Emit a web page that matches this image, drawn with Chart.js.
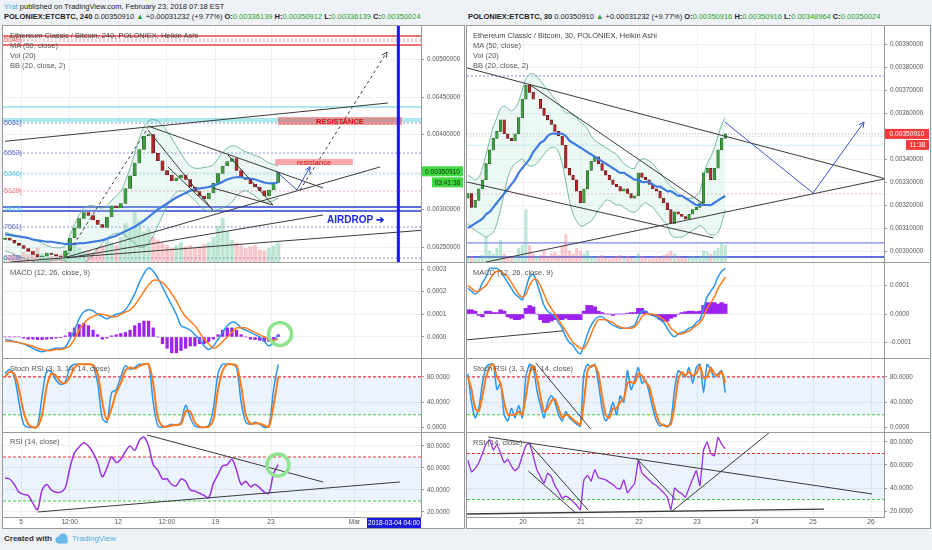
<!DOCTYPE html>
<html>
<head>
<meta charset="utf-8">
<script src="https://cdn.jsdelivr.net/npm/chart.js@4.4.1/dist/chart.umd.min.js"></script>
<style>
body { margin:0; background:#eef1f6; width:932px; height:550px; overflow:hidden; position:relative;
       font-family:"Liberation Sans", Arial, sans-serif; }
canvas { position:absolute; }
.abs { position:absolute; white-space:nowrap; }
.hdr { font-size:7.5px; color:#222; line-height:10px; }
.g { color:#2ca02c; }
.panel { position:absolute; background:#fff; border:1px solid #9a9a9a; box-sizing:border-box; }
.sep { position:absolute; height:1px; background:#9a9a9a; }
.leg { font-size:7.5px; color:#555; line-height:10px; z-index:5; }
</style>
</head>
<body>

<div class="abs hdr" style="left:4px;top:2px"><span style="color:#3bb0e0">Yrat</span> published on TradingView.com, February 23, 2018 07:18 EST</div>
<div class="abs hdr" style="left:4px;top:12px"><b>POLONIEX:ETCBTC, 240</b> 0.00350910 <span class="g">&#9650;</span> +0.00031232 (+9.77%) <b>O:</b><span class="g">0.00336139</span> <b>H:</b><span class="g">0.00350912</span> <b>L:</b><span class="g">0.00336139</span> <b>C:</b><span class="g">0.00350024</span></div>
<div class="abs hdr" style="left:468px;top:12px"><b>POLONIEX:ETCBTC, 30</b> 0.00350910 <span class="g">&#9650;</span> +0.00031232 (+9.77%) <b>O:</b><span class="g">0.00350916</span> <b>H:</b><span class="g">0.00350916</span> <b>L:</b><span class="g">0.00348964</span> <b>C:</b><span class="g">0.00350024</span></div>

<div class="panel" style="left:2px;top:25px;width:463px;height:504px"></div>
<div class="panel" style="left:466px;top:25px;width:465px;height:504px"></div>

<canvas id="lMain" width="461" height="236" style="left:3px;top:26px"></canvas>
<canvas id="lMacd" width="461" height="95" style="left:3px;top:263px"></canvas>
<canvas id="lStoch" width="461" height="73" style="left:3px;top:359px"></canvas>
<canvas id="lRsi" width="461" height="95" style="left:3px;top:433px"></canvas>

<canvas id="rMain" width="463" height="236" style="left:467px;top:26px"></canvas>
<canvas id="rMacd" width="463" height="95" style="left:467px;top:263px"></canvas>
<canvas id="rStoch" width="463" height="73" style="left:467px;top:359px"></canvas>
<canvas id="rRsi" width="463" height="95" style="left:467px;top:433px"></canvas>

<div class="sep" style="left:3px;top:262px;width:461px"></div>
<div class="sep" style="left:3px;top:358px;width:461px"></div>
<div class="sep" style="left:3px;top:432px;width:461px"></div>
<div class="sep" style="left:467px;top:262px;width:463px"></div>
<div class="sep" style="left:467px;top:358px;width:463px"></div>
<div class="sep" style="left:467px;top:432px;width:463px"></div>

<div class="abs leg" style="left:10px;top:31px;color:#444">Ethereum Classic / Bitcoin, 240, POLONIEX, Heikin Ashi</div>
<div class="abs leg" style="left:10px;top:41px">MA (50, close)</div>
<div class="abs leg" style="left:10px;top:51px">Vol (20)</div>
<div class="abs leg" style="left:10px;top:61px">BB (20, close, 2)</div>
<div class="abs leg" style="left:10px;top:268px">MACD (12, 26, close, 9)</div>
<div class="abs leg" style="left:10px;top:364px">Stoch RSI (3, 3, 14, 14, close)</div>
<div class="abs leg" style="left:10px;top:437px">RSI (14, close)</div>

<div class="abs leg" style="left:473px;top:31px;color:#444">Ethereum Classic / Bitcoin, 30, POLONIEX, Heikin Ashi</div>
<div class="abs leg" style="left:473px;top:41px">MA (50, close)</div>
<div class="abs leg" style="left:473px;top:51px">Vol (20)</div>
<div class="abs leg" style="left:473px;top:61px">BB (20, close, 2)</div>
<div class="abs leg" style="left:473px;top:268px">MACD (12, 26, close, 9)</div>
<div class="abs leg" style="left:473px;top:364px">Stoch RSI (3, 3, 14, 14, close)</div>
<div class="abs leg" style="left:473px;top:438px">RSI (14, close)</div>

<div class="abs" style="left:4px;top:534px;font-size:8px;color:#333;font-weight:bold">Created with</div>
<svg class="abs" style="left:54px;top:533px" width="16" height="11" viewBox="0 0 16 11">
  <circle cx="5" cy="7" r="3.5" fill="#6bb8e8"/><circle cx="9" cy="5" r="4.5" fill="#6bb8e8"/>
  <rect x="4" y="6" width="10" height="4.5" rx="2" fill="#6bb8e8"/>
</svg>
<div class="abs" style="left:72px;top:534px;font-size:8px;color:#55aee0">TradingView</div>

<script>
const FONT = '"Liberation Sans", Arial, sans-serif';

// ---------- left chart (240 min, one point every 8 hours) ----------
const leftStart = 3.85;          // day of February
const leftXTicks = [5, 8.5, 12, 15.5, 19, 23, 29];
const leftXLabels = ['5', '12:00', '12', '12:00', '19', '23', 'Mar'];

const leftClose = [
  0.00262,0.00259,0.00255, 0.00252,0.00248,0.00244, 0.00240,0.00237,0.00238,
  0.00242,0.00240,0.00238, 0.00237,0.00245,0.00262, 0.00275,0.00288,0.00296,
  0.00292,0.00286,0.00280, 0.00276,0.00290,0.00305, 0.00302,0.00308,0.00328,
  0.00345,0.00362,0.00380, 0.00398,0.00400,0.00375, 0.00365,0.00352,0.00346,
  0.00338,0.00342,0.00346, 0.00340,0.00330,0.00324, 0.00318,0.00314,0.00322,
  0.00335,0.00348,0.00358, 0.00364,0.00368,0.00352, 0.00342,0.00340,0.00334,
  0.00330,0.00325,0.00318, 0.00326,0.00336,0.00350];
const leftMa = [
  0.00267,0.00266,0.00265, 0.00264,0.00263,0.00262, 0.00260,0.00259,0.00258,
  0.00257,0.00257,0.00256, 0.00255,0.00254,0.00254, 0.00254,0.00255,0.00255,
  0.00256,0.00257,0.00258, 0.00259,0.00261,0.00263, 0.00265,0.00268,0.00271,
  0.00274,0.00277,0.00281, 0.00285,0.00290,0.00295, 0.00300,0.00304,0.00308,
  0.00312,0.00316,0.00319, 0.00322,0.00325,0.00327, 0.00328,0.00329,0.00330,
  0.00332,0.00334,0.00337, 0.00340,0.00342,0.00343, 0.00343,0.00342,0.00341,
  0.00340,0.00338,0.00336, 0.00335,0.00335,0.00336];
const leftBbUp = [
  0.00270,0.00268,0.00266, 0.00265,0.00263,0.00262, 0.00260,0.00258,0.00255,
  0.00252,0.00250,0.00249, 0.00249,0.00252,0.00265, 0.00280,0.00293,0.00302,
  0.00305,0.00305,0.00303, 0.00302,0.00305,0.00312, 0.00318,0.00324,0.00338,
  0.00355,0.00375,0.00395, 0.00410,0.00418,0.00420, 0.00418,0.00412,0.00404,
  0.00395,0.00385,0.00375, 0.00365,0.00358,0.00355, 0.00355,0.00356,0.00357,
  0.00360,0.00368,0.00376, 0.00382,0.00385,0.00384, 0.00380,0.00377,0.00375,
  0.00372,0.00370,0.00366, 0.00362,0.00360,0.00358];
const leftBbLow = [
  0.00245,0.00243,0.00240, 0.00237,0.00235,0.00233, 0.00231,0.00230,0.00230,
  0.00231,0.00232,0.00233, 0.00233,0.00232,0.00228, 0.00225,0.00225,0.00228,
  0.00233,0.00240,0.00248, 0.00255,0.00262,0.00266, 0.00268,0.00268,0.00265,
  0.00260,0.00255,0.00250, 0.00250,0.00255,0.00265, 0.00278,0.00292,0.00305,
  0.00315,0.00323,0.00325, 0.00323,0.00318,0.00312, 0.00305,0.00300,0.00298,
  0.00298,0.00300,0.00302, 0.00305,0.00310,0.00318, 0.00323,0.00325,0.00322,
  0.00318,0.00313,0.00310, 0.00310,0.00312,0.00315];
const leftVol = [
  10,12,15, 12,18,14, 20,25,15, 12,10,12, 14,20,30, 35,25,20, 22,18,25,
  30,40,35, 30,45,70, 60,90,75, 55,60,45, 40,35,30, 25,30,35, 28,30,25,
  28,32,35, 45,65,80, 55,40,35, 30,25,28, 30,22,20, 25,30,35];
const leftMacd = [
  -0.000012,-0.000015,-0.00002, -0.000025,-0.00003,-0.00004, -0.00005,-0.00006,-0.000065,
  -0.00006,-0.000055,-0.00005, -0.00005,-0.000045,-0.00001, 0.00003,0.00008,0.00011,
  0.00012,0.000115,0.0001, 0.00009,0.00008,0.00009, 0.0001,0.000105,0.00012,
  0.00015,0.00019,0.00024, 0.00028,0.000305,0.00029, 0.00026,0.00022,0.00018,
  0.00014,0.0001,0.00005, 0.00004,0.00003,0.00001, -0.00001,-0.00004,-0.000055,
  -0.00004,-0.00001,0.00002, 0.00005,0.000065,0.00006, 0.00004,0.00003,0.00002,
  0.00001,0.0,-0.00002, -0.00004,-0.00002,0.00001];
const leftSignal = [
  -0.000018,-0.00002,-0.000022, -0.000025,-0.00003,-0.000035, -0.00004,-0.00005,-0.000055,
  -0.00006,-0.00006,-0.000055, -0.000055,-0.00005,-0.00004, -0.00001,0.00003,0.00006,
  0.00008,0.00009,0.0001, 0.0001,0.000095,0.00009, 0.00009,0.0001,0.00011,
  0.00012,0.00014,0.00017, 0.0002,0.00023,0.00025, 0.00025,0.00024,0.00022,
  0.00019,0.00016,0.00012, 0.00009,0.00007,0.00005, 0.00002,-0.00001,-0.00003,
  -0.00005,-0.00004,-0.00002, 0.0,0.00002,0.00004, 0.00004,0.00004,0.00003,
  0.00002,0.00001,0.0, -0.00001,-0.000015,-0.00001];
const leftHist = [
  0.0,0.0,0.0, 0.0,-0.000005,-0.00001, -0.00001,-0.000012,-0.000012,
  -0.00001,-0.000008,-0.000005, -0.000003,0.000005,0.00002, 0.00004,0.000055,0.00006,
  0.00005,0.00003,0.00001, -0.00001,-0.000005,0.000005, 0.00001,0.000015,0.00002,
  0.00003,0.00005,0.00006, 0.00007,0.00007,0.00004, 0.0,-0.00003,-0.00005,
  -0.00007,-0.00007,-0.00006, -0.00005,-0.00004,-0.00004, -0.00003,-0.00003,-0.00002,
  -0.00001,0.00001,0.00003, 0.00004,0.00004,0.00003, 0.00001,0.0,-0.00001,
  -0.000012,-0.000015,-0.00002, -0.00002,-0.00001,0.00001];
const leftK = [
  85,92,80, 40,5,0, 0,2,50, 90,88,75, 68,72,95, 100,100,100, 100,98,70,
  15,8,55, 60,80,98, 92,95,100, 100,100,40, 2,0,2, 5,3,8, 35,15,2,
  0,0,3, 30,85,100, 100,100,95, 40,8,5, 8,5,0, 2,60,100];
const leftD = [
  80,88,85, 60,25,5, 0,1,20, 65,85,82, 72,70,80, 95,100,100, 100,99,85,
  40,12,30, 55,70,90, 95,93,97, 100,100,70, 15,2,1, 3,4,5, 25,25,8,
  1,0,1, 12,60,90, 100,100,98, 65,20,6, 6,6,3, 1,35,80];
const leftRsi = [
  51,50,45, 38,36,35, 28,22,40, 45,40,38, 38,42,60, 74,79,83, 80,74,65,
  52,60,70, 65,68,75, 80,76,85, 88,80,63, 58,50,50, 45,44,50, 48,40,39,
  37,35,33, 46,54,62, 63,68,58, 45,48,43, 45,42,38, 37,55,63];

// ---------- right chart (30 min, one point every 90 minutes) ----------
const rightStart = 19.05;
const rightXTicks = [20, 21, 22, 23, 24, 25, 26];
const rightXLabels = ['20', '21', '22', '23', '24', '25', '26'];

const rightClose = [
  0.00325,0.00319,0.00322,0.00327, 0.00331,0.00338,0.00344,0.00349,
  0.00352,0.00357,0.00351,0.00349, 0.00348,0.00351,0.00358,0.00366,
  0.00372,0.00369,0.00366,0.00366, 0.00362,0.00359,0.00357,0.00355,
  0.00352,0.00350,0.00346,0.00336, 0.00333,0.00331,0.00326,0.00321,
  0.00327,0.00335,0.00339,0.00341, 0.00338,0.00335,0.00333,0.00331,
  0.00329,0.00328,0.00326,0.00327, 0.00325,0.00323,0.00324,0.00334,
  0.00332,0.00331,0.00329,0.00327, 0.00326,0.00323,0.00321,0.00318,
  0.00312,0.00317,0.00316,0.00315, 0.00314,0.00316,0.00318,0.00319,
  0.00321,0.00334,0.00336,0.00331, 0.00336,0.00344,0.00349,0.00351];
const rightMa = [
  0.00310,0.00311,0.00312,0.00313, 0.00314,0.00316,0.00317,0.00319,
  0.00321,0.00323,0.00325,0.00327, 0.00329,0.00331,0.00334,0.00336,
  0.00338,0.00340,0.00343,0.00345, 0.00347,0.00348,0.00350,0.00351,
  0.00351,0.00351,0.00351,0.00350, 0.00348,0.00347,0.00346,0.00345,
  0.00344,0.00343,0.00342,0.00341, 0.00340,0.00339,0.00338,0.00337,
  0.00336,0.00335,0.00334,0.00334, 0.00333,0.00332,0.00331,0.00331,
  0.00330,0.00330,0.00330,0.00329, 0.00328,0.00328,0.00327,0.00326,
  0.00326,0.00325,0.00324,0.00324, 0.00323,0.00322,0.00321,0.00320,
  0.00320,0.00320,0.00320,0.00320, 0.00321,0.00322,0.00323,0.00324];
const rightBbUp = [
  0.00333,0.00332,0.00331,0.00332, 0.00336,0.00342,0.00348,0.00354,
  0.00358,0.00362,0.00363,0.00362, 0.00361,0.00362,0.00365,0.00370,
  0.00375,0.00377,0.00377,0.00376, 0.00374,0.00372,0.00370,0.00368,
  0.00366,0.00364,0.00362,0.00360, 0.00360,0.00359,0.00358,0.00356,
  0.00355,0.00353,0.00350,0.00348, 0.00347,0.00346,0.00345,0.00344,
  0.00343,0.00342,0.00340,0.00338, 0.00337,0.00336,0.00336,0.00339,
  0.00340,0.00340,0.00339,0.00338, 0.00336,0.00334,0.00332,0.00330,
  0.00328,0.00327,0.00325,0.00324, 0.00323,0.00323,0.00323,0.00324,
  0.00326,0.00333,0.00338,0.00341, 0.00345,0.00350,0.00355,0.00358];
const rightBbLow = [
  0.00312,0.00310,0.00309,0.00308, 0.00307,0.00306,0.00307,0.00308,
  0.00312,0.00318,0.00325,0.00332, 0.00336,0.00338,0.00339,0.00340,
  0.00338,0.00337,0.00337,0.00338, 0.00340,0.00342,0.00344,0.00345,
  0.00345,0.00343,0.00338,0.00330, 0.00322,0.00316,0.00313,0.00311,
  0.00311,0.00312,0.00313,0.00315, 0.00318,0.00320,0.00322,0.00322,
  0.00321,0.00320,0.00320,0.00319, 0.00318,0.00317,0.00317,0.00318,
  0.00320,0.00321,0.00320,0.00319, 0.00317,0.00315,0.00313,0.00311,
  0.00307,0.00306,0.00306,0.00306, 0.00307,0.00308,0.00309,0.00310,
  0.00311,0.00310,0.00308,0.00307, 0.00307,0.00308,0.00312,0.00318];
const rightVol = [
  8,10,6,8, 12,45,20,15, 25,40,15,10, 8,10,25,30, 95,30,15,10, 12,20,10,15,
  18,12,30,50, 20,15,25,20, 15,20,10,8, 10,12,8,6, 8,10,12,8, 10,8,6,15,
  10,8,6,8, 10,8,12,15, 20,15,10,8, 6,8,10,8, 10,20,18,15, 20,25,35,30];
const rightMacd = [
  0.00009,0.00008,0.00007,0.00008, 0.00011,0.00013,0.00016,0.00016,
  0.00016,0.00015,0.00013,0.00011, 0.00009,0.00007,0.00006,0.00005,
  0.00009,0.00013,0.00014,0.00011, 0.00007,0.00003,0.00001,0.0,
  -0.00001,-0.00003,-0.00005,-0.00008, -0.0001,-0.00011,-0.00013,-0.00014,
  -0.00011,-0.00007,-0.00004,-0.00002, -0.00001,-0.00001,-0.00002,-0.00003,
  -0.00004,-0.000045,-0.00005,-0.00005, -0.00005,-0.000045,-0.00004,-0.00001,
  0.00001,0.00001,0.0,-0.000005, -0.00001,-0.00002,-0.00003,-0.00005,
  -0.00007,-0.00008,-0.00007,-0.000065, -0.00006,-0.00005,-0.000045,-0.00003,
  -0.00002,0.00002,0.00006,0.00008, 0.0001,0.00013,0.00015,0.00016];
const rightSignal = [
  0.0001,0.00009,0.00008,0.00008, 0.00009,0.0001,0.00012,0.00014,
  0.00015,0.00015,0.00014,0.00013, 0.00011,0.00009,0.00007,0.00006,
  0.00007,0.0001,0.00012,0.00012, 0.0001,0.00007,0.00004,0.00002,
  0.0,-0.00002,-0.00004,-0.00006, -0.00008,-0.0001,-0.00011,-0.00012,
  -0.00012,-0.0001,-0.00007,-0.00004, -0.00002,-0.00002,-0.00002,-0.000025,
  -0.00003,-0.00004,-0.000045,-0.00005, -0.00005,-0.00005,-0.000045,-0.00003,
  -0.00001,0.0,0.0,0.0, -0.000005,-0.00001,-0.00002,-0.00003,
  -0.00005,-0.00006,-0.00007,-0.00007, -0.000065,-0.00006,-0.00005,-0.00004,
  -0.00003,-0.00001,0.00002,0.00004, 0.00006,0.00009,0.00011,0.00013];
const rightHist = [
  0.000015,0.000015,0.00001,-0.000005, -0.00001,0.00001,0.00001,0.000005,
  0.000005,0.000015,0.00001,-0.00001, -0.000015,-0.00002,-0.00002,-0.000015,
  0.00002,0.00003,0.000025,0.0, -0.00002,-0.00003,-0.00003,-0.000025,
  -0.00002,-0.00002,-0.00002,-0.000015, -0.00002,-0.00002,-0.00002,-0.00002,
  0.00001,0.00003,0.00003,0.000025, 0.00001,0.000005,0.0,0.0,
  -0.000005,0.0,0.0,0.0, 0.000003,0.000005,0.000005,0.00002,
  0.00002,0.00001,0.0,-0.000005, -0.00001,-0.00002,-0.000025,-0.000025,
  -0.000015,-0.00001,0.0,0.000005, 0.000008,0.00001,0.00001,0.000008,
  0.00001,0.00003,0.00004,0.00004, 0.00004,0.000035,0.00004,0.000035];
const rightK = [
  85,40,15,30, 70,95,100,100, 60,70,20,10, 30,15,35,15, 80,100,95,60,
  35,15,40,50, 40,20,10,25, 15,10,5,2, 85,100,95,100, 70,30,10,20,
  40,20,50,40, 90,60,75,95, 70,75,55,30, 10,2,5,0, 10,60,90,85,
  80,95,70,95, 100,55,100,90, 80,85,90,55];
const rightD = [
  80,60,30,25, 50,80,95,100, 80,70,40,20, 20,20,25,20, 50,85,98,80,
  50,25,30,42, 45,30,15,20, 18,12,8,4, 40,90,97,98, 85,50,20,15,
  30,30,40,45, 70,72,70,85, 82,72,65,42, 20,6,3,2, 5,35,75,88,
  82,88,82,85, 97,78,80,95, 85,82,88,70];
const rightRsi = [
  64,54,57,62, 70,78,82,73, 78,70,62,65, 59,55,58,68, 77,79,68,56,
  50,44,53,50, 42,37,31,33, 31,28,25,21, 47,51,46,56, 49,48,47,45,
  43,40,39,47, 36,40,44,64, 53,50,47,44, 42,39,36,32, 21,40,37,35,
  32,40,48,55, 42,73,80,70, 68,84,78,74];

// ---------- helpers ----------
function daysFrom(start, perDay, n) {
  const out = [];
  for (let i = 0; i < n; i++) out.push(start + i / perDay);
  return out;
}
const leftDays = daysFrom(leftStart, 3, leftClose.length);
const rightDays = daysFrom(rightStart, 16, rightClose.length);

const pts = (days, vals) => vals.map((v, i) => ({x: days[i], y: v}));
const upDown = (close, i) => i === 0 || close[i] >= close[i - 1];

function candleSet(days, close, thick) {
  return {
    type: 'bar', grouped: false, order: 1, barThickness: thick,
    data: close.map((c, i) => ({x: days[i], y: [i ? close[i - 1] : c - 0.00002, c]})),
    backgroundColor: close.map((c, i) => upDown(close, i) ? '#3f9f3f' : '#b3262b'),
    borderColor: close.map((c, i) => upDown(close, i) ? '#1f4f1f' : '#4a1010'),
    borderWidth: 0.5, borderSkipped: false
  };
}
function volSet(days, vol, close, thick) {
  return {
    type: 'bar', grouped: false, order: 6, yAxisID: 'yv', barThickness: thick,
    data: pts(days, vol),
    backgroundColor: vol.map((v, i) => upDown(close, i) ? 'rgba(110,200,160,0.45)' : 'rgba(240,130,140,0.45)')
  };
}
const lineSet = (days, vals, color, width, order, extra) => Object.assign({
  type: 'line', data: pts(days, vals), borderColor: color, borderWidth: width,
  pointRadius: 0, tension: 0.3, order: order, fill: false
}, extra || {});

function yScale(min, max, ticks, dec, width) {
  return {
    position: 'right', min: min, max: max,
    afterBuildTicks: s => { s.ticks = ticks.map(v => ({value: v})); },
    afterFit: s => { s.width = width; s.paddingTop = 0; s.paddingBottom = 0; },
    ticks: { callback: v => v.toFixed(dec), font: {size: 6.3, family: FONT}, color: '#555', padding: 3 },
    grid: { color: '#edf0f5', tickLength: 3, tickColor: '#999' },
    border: { color: '#9a9a9a' }
  };
}
function xScale(min, max, ticks, labels, show) {
  return {
    type: 'linear', min: min, max: max, offset: false,
    afterBuildTicks: s => { s.ticks = ticks.map(v => ({value: v})); },
    afterFit: s => { s.height = show ? 11 : 0; s.paddingLeft = 0; s.paddingRight = 0; },
    ticks: { display: show, autoSkip: false, maxRotation: 0, padding: 1,
             callback: (v, i) => labels[i], font: {size: 6.6, family: FONT}, color: '#555' },
    grid: { color: '#edf0f5', drawTicks: false, offset: false },
    border: { display: show, color: '#9a9a9a' }
  };
}

// drawings: trend lines, levels, boxes and price tags placed in data units
function paint(chart, items) {
  if (!items) return;
  const {ctx, chartArea: a, scales} = chart;
  const X = v => scales.x.getPixelForValue(v), Y = v => scales.y.getPixelForValue(v);
  ctx.save();
  ctx.beginPath(); ctx.rect(a.left, a.top, a.right - a.left, a.bottom - a.top); ctx.clip();
  for (const it of items) {
    ctx.setLineDash(it.dash || []);
    ctx.strokeStyle = it.c || '#3a3a3a';
    ctx.fillStyle = it.c || '#3a3a3a';
    ctx.lineWidth = it.w || 1;
    if (it.t === 'band') {
      ctx.fillStyle = it.fill;
      ctx.fillRect(a.left, Y(it.y1), a.right - a.left, Y(it.y0) - Y(it.y1));
    } else if (it.t === 'hline') {
      ctx.beginPath(); ctx.moveTo(a.left, Y(it.y)); ctx.lineTo(a.right, Y(it.y)); ctx.stroke();
    } else if (it.t === 'vline') {
      ctx.beginPath(); ctx.moveTo(X(it.x), a.top); ctx.lineTo(X(it.x), a.bottom); ctx.stroke();
    } else if (it.t === 'line') {
      ctx.beginPath();
      it.p.forEach((q, i) => i ? ctx.lineTo(X(q[0]), Y(q[1])) : ctx.moveTo(X(q[0]), Y(q[1])));
      ctx.stroke();
      if (it.arrow) {
        const n = it.p.length, p1 = it.p[n - 2], p2 = it.p[n - 1];
        const x2 = X(p2[0]), y2 = Y(p2[1]);
        const ang = Math.atan2(y2 - Y(p1[1]), x2 - X(p1[0]));
        ctx.setLineDash([]);
        ctx.beginPath();
        ctx.moveTo(x2 - 6 * Math.cos(ang - 0.45), y2 - 6 * Math.sin(ang - 0.45));
        ctx.lineTo(x2, y2);
        ctx.lineTo(x2 - 6 * Math.cos(ang + 0.45), y2 - 6 * Math.sin(ang + 0.45));
        ctx.stroke();
      }
    } else if (it.t === 'rect') {
      const x0 = X(it.x0), x1 = X(it.x1), y0 = Y(it.y0), y1 = Y(it.y1);
      ctx.fillStyle = it.fill;
      ctx.fillRect(x0, y1, x1 - x0, y0 - y1);
      ctx.fillStyle = it.tc; ctx.font = it.font; ctx.textAlign = 'center'; ctx.textBaseline = 'middle';
      ctx.fillText(it.s, (x0 + x1) / 2, (y0 + y1) / 2 + 0.5);
    } else if (it.t === 'text') {
      ctx.font = it.font; ctx.textAlign = 'left'; ctx.textBaseline = 'middle';
      ctx.fillText(it.s, X(it.x), Y(it.y));
    } else if (it.t === 'fib') {
      ctx.font = '7px ' + FONT; ctx.textAlign = 'left'; ctx.textBaseline = 'middle';
      ctx.fillText(it.s, a.left + 1, Y(it.y));
    } else if (it.t === 'circle') {
      ctx.beginPath(); ctx.arc(X(it.x), Y(it.y), it.r, 0, Math.PI * 2); ctx.stroke();
    }
  }
  ctx.restore();
}
function paintTags(chart, tags) {
  if (!tags) return;
  const {ctx, chartArea: a} = chart;
  ctx.save();
  for (const g of tags) {
    ctx.font = '6.6px ' + FONT; ctx.textBaseline = 'middle';
    if (g.t === 'xtag') {
      const x1 = a.right, x0 = x1 - g.width;
      ctx.fillStyle = g.bg; ctx.fillRect(x0, a.bottom + 1, g.width, 10);
      ctx.fillStyle = g.fg; ctx.textAlign = 'center';
      ctx.fillText(g.s, (x0 + x1) / 2, a.bottom + 6.5);
      continue;
    }
    const y = chart.scales.y.getPixelForValue(g.y) + (g.dy || 0);
    const x1 = chart.width - 1, x0 = g.width ? x1 - g.width : a.right + 1;
    ctx.fillStyle = g.bg; ctx.fillRect(x0, y - 5, x1 - x0, 10);
    ctx.fillStyle = g.fg; ctx.textAlign = 'center';
    ctx.fillText(g.s, (x0 + x1) / 2, y + 0.5);
  }
  ctx.restore();
}
const drawPlugin = {
  id: 'drawings',
  beforeDatasetsDraw(chart, args, o) { paint(chart, o.under); },
  afterDatasetsDraw(chart, args, o) { paint(chart, o.over); },
  afterDraw(chart, args, o) { paintTags(chart, o.tags); }
};

function makeChart(id, datasets, x, y, extraScales, draw) {
  const scales = Object.assign({x: x, y: y}, extraScales || {});
  return new Chart(document.getElementById(id), {
    type: 'bar',
    data: {datasets: datasets},
    options: {
      responsive: false, animation: false,
      layout: {padding: 0},
      scales: scales,
      plugins: {legend: {display: false}, tooltip: {enabled: false}, drawings: draw}
    },
    plugins: [drawPlugin]
  });
}

const LX = [3.70, 33.80], RX = [19.034, 26.224];
const volAxis = {yv: {display: false, min: 0, max: 430}};
const mainTicksL = [0.0025, 0.003, 0.0035, 0.004, 0.0045, 0.005];
const mainTicksR = [0.003, 0.0031, 0.0032, 0.0033, 0.0034, 0.0035, 0.0036, 0.0037, 0.0038, 0.0039];
const BLACK = '#3a3a3a', PROJ = '#4050c8';
const lastPrice = 0.0035091;

// ---------- left panes ----------
makeChart('lMain', [
  candleSet(leftDays, leftClose, 3.2),
  lineSet(leftDays, leftMa, '#3d7be0', 2.2, 0),
  lineSet(leftDays, leftBbUp, '#58a88a', 0.8, 3),
  lineSet(leftDays, leftBbLow, '#58a88a', 0.8, 3, {fill: '-1', backgroundColor: 'rgba(170,225,205,0.22)'}),
  volSet(leftDays, leftVol, leftClose, 3.4)
], xScale(LX[0], LX[1], leftXTicks, leftXLabels, false),
   yScale(0.0023, 0.0054467, mainTicksL, 8, 43), volAxis, {
  under: [
    {t: 'hline', y: 0.005313, c: '#e04040', w: 1.4},
    {t: 'hline', y: 0.005273, c: '#f2a0a0', dash: [2, 2]},
    {t: 'hline', y: 0.005247, c: '#f2a0a0', dash: [2, 2]},
    {t: 'hline', y: 0.005193, c: '#e04040', w: 1.4},
    {t: 'hline', y: 0.004367, c: '#5ad2e2'},
    {t: 'hline', y: 0.004207, c: '#5ad2e2'},
    {t: 'hline', y: 0.004180, c: '#5ad2e2'},
    {t: 'hline', y: 0.004153, c: '#8a94d8', dash: [2, 2]},
    {t: 'hline', y: 0.003753, c: '#8a94d8', dash: [2, 2]},
    {t: 'hline', y: 0.003473, c: '#8fdce8', dash: [2, 2]},
    {t: 'hline', y: 0.003247, c: '#f3a3b8', dash: [2, 2]},
    {t: 'hline', y: 0.003033, c: '#2a3fd6', w: 1.4},
    {t: 'hline', y: 0.002980, c: '#2a3fd6', w: 1.4},
    {t: 'hline', y: 0.002767, c: '#8a94d8', dash: [2, 2]},
    {t: 'hline', y: 0.002353, c: '#8a94d8', dash: [2, 2]}
  ],
  over: [
    {t: 'line', p: [[3.85, 0.00391], [31.42, 0.00442]], c: BLACK},
    {t: 'line', p: [[14.14, 0.004113], [26.74, 0.003287]], c: BLACK},
    {t: 'line', p: [[14.14, 0.00406], [18.82, 0.00299]], c: BLACK},
    {t: 'line', p: [[19.90, 0.003727], [23.14, 0.00306]], c: BLACK},
    {t: 'line', p: [[18.82, 0.003287], [23.14, 0.00306]], c: BLACK},
    {t: 'line', p: [[15.58, 0.003567], [18.82, 0.002993]], c: BLACK},
    {t: 'line', p: [[8.31, 0.002367], [30.85, 0.003567]], c: BLACK},
    {t: 'line', p: [[8.31, 0.002353], [26.74, 0.002927]], c: BLACK},
    {t: 'line', p: [[4.21, 0.0023], [36.97, 0.002767]], c: BLACK},
    {t: 'line', p: [[8.31, 0.002393], [14.14, 0.004087]], c: BLACK, dash: [3, 3]},
    {t: 'line', p: [[25.09, 0.00326], [31.35, 0.0051]], c: BLACK, dash: [3, 3], arrow: true},
    {t: 'line', p: [[23.43, 0.0035], [24.87, 0.00326], [25.81, 0.00357]], c: PROJ, arrow: true},
    {t: 'rect', x0: 23.50, x1: 32.43, y0: 0.004127, y1: 0.004233, fill: 'rgba(232,80,80,0.55)',
     s: 'RESISTANCE', tc: '#e01010', font: 'bold 7.5px ' + FONT},
    {t: 'rect', x0: 23.29, x1: 28.90, y0: 0.003593, y1: 0.003673, fill: 'rgba(240,110,110,0.6)',
     s: 'resistance', tc: '#d01010', font: '7.5px ' + FONT},
    {t: 'text', x: 27.03, y: 0.00286, s: 'AIRDROP \u2794', c: '#1a2ad8', font: 'bold 10px ' + FONT},
    {t: 'vline', x: 32.17, c: '#1818f0', w: 3},
    {t: 'fib', y: 0.005253, s: '5149)', c: '#e05050'},
    {t: 'fib', y: 0.004153, s: '5031)', c: '#5c6bc0'},
    {t: 'fib', y: 0.003753, s: '5553)', c: '#5c6bc0'},
    {t: 'fib', y: 0.003473, s: '5346)', c: '#4cc6d8'},
    {t: 'fib', y: 0.003247, s: '5129)', c: '#e06a6a'},
    {t: 'fib', y: 0.003007, s: '3813)', c: '#4cc6d8'},
    {t: 'fib', y: 0.002767, s: '7561)', c: '#5c6bc0'},
    {t: 'fib', y: 0.002353, s: '5228)', c: '#5c6bc0'}
  ],
  tags: [
    {y: lastPrice, s: '0.00350910', bg: '#3fd83f', fg: '#103010'},
    {y: lastPrice, dy: 11, width: 31, s: '03:41:38', bg: '#3fd83f', fg: '#103010'}
  ]
});

makeChart('lMacd', [
  lineSet(leftDays, leftSignal, '#ff7a1a', 1.5, 1),
  lineSet(leftDays, leftMacd, '#2a96ee', 1.5, 2),
  {type: 'bar', grouped: false, order: 3, barThickness: 2.6, data: pts(leftDays, leftHist), backgroundColor: '#a022ee'}
], xScale(LX[0], LX[1], leftXTicks, leftXLabels, false),
   yScale(-0.0000929, 0.0003265, [0, 0.0001, 0.0002, 0.0003], 4, 43), null, {
  over: [{t: 'circle', x: 23.65, y: 0.0000133, r: 11.5, c: '#90e490', w: 3.5}]
});

const stochBands = [
  {t: 'band', y0: 20, y1: 80, fill: 'rgba(33,120,243,0.09)'},
  {t: 'hline', y: 80, c: '#e53935', dash: [3, 2], w: 1.2},
  {t: 'hline', y: 20, c: '#43c843', dash: [3, 2], w: 1.2}
];
const rsiBands = [
  {t: 'band', y0: 30, y1: 70, fill: 'rgba(33,120,243,0.09)'},
  {t: 'hline', y: 70, c: '#e53935', dash: [3, 2], w: 1.2},
  {t: 'hline', y: 30, c: '#43c843', dash: [3, 2], w: 1.2}
];

makeChart('lStoch', [
  lineSet(leftDays, leftD, '#ff7a1a', 2, 1),
  lineSet(leftDays, leftK, '#2a96ee', 1.5, 2)
], xScale(LX[0], LX[1], leftXTicks, leftXLabels, false),
   yScale(-7.4, 108.4, [0, 40, 80], 4, 43), null, {under: stochBands});

makeChart('lRsi', [
  lineSet(leftDays, leftRsi, '#9a2ee0', 1.5, 1)
], xScale(LX[0], LX[1], leftXTicks, leftXLabels, true),
   yScale(15.45, 91.8, [20, 40, 60, 80], 4, 43), null, {
  under: rsiBands,
  over: [
    {t: 'line', p: [[14.07, 90], [26.74, 47.3]], c: BLACK},
    {t: 'line', p: [[6.22, 20], [32.29, 47.3]], c: BLACK},
    {t: 'circle', x: 23.50, y: 62.7, r: 11, c: '#90e490', w: 3.5}
  ],
  tags: [{t: 'xtag', width: 54, s: '2018-03-04 04:00', bg: '#1a1ad8', fg: '#ffffff'}]
});

// ---------- right panes ----------
makeChart('rMain', [
  candleSet(rightDays, rightClose, 2.6),
  lineSet(rightDays, rightMa, '#3d7be0', 2.2, 0),
  lineSet(rightDays, rightBbUp, '#58a88a', 0.8, 3),
  lineSet(rightDays, rightBbLow, '#58a88a', 0.8, 3, {fill: '-1', backgroundColor: 'rgba(170,225,205,0.22)'}),
  volSet(rightDays, rightVol, rightClose, 2.4)
], xScale(RX[0], RX[1], rightXTicks, rightXLabels, false),
   yScale(0.0029522, 0.0039783, mainTicksR, 8, 46), volAxis, {
  under: [
    {t: 'hline', y: 0.003761, c: '#8080f0', dash: [2, 2]},
    {t: 'hline', y: 0.003460, c: '#c4eef4'},
    {t: 'hline', y: lastPrice, c: '#aaaaaa', dash: [1, 2]},
    {t: 'hline', y: 0.003248, c: '#f6b8cc', dash: [2, 2]},
    {t: 'hline', y: 0.003035, c: '#7a86ee', w: 1.2},
    {t: 'hline', y: 0.002974, c: '#2a3fd6', w: 1.5}
  ],
  over: [
    {t: 'line', p: [[19.034, 0.003796], [26.224, 0.003316]], c: BLACK},
    {t: 'line', p: [[20.10, 0.003726], [23.14, 0.0032]], c: BLACK},
    {t: 'line', p: [[19.034, 0.0033], [23.28, 0.003057]], c: BLACK},
    {t: 'line', p: [[19.36, 0.002952], [26.224, 0.003313]], c: BLACK},
    {t: 'line', p: [[23.48, 0.003561], [25.0, 0.003252], [25.88, 0.003561]], c: PROJ, arrow: true}
  ],
  tags: [
    {y: lastPrice, s: '0.00350910', bg: '#f23a3a', fg: '#ffffff'},
    {y: lastPrice, dy: 11, width: 23, s: '11:38', bg: '#f23a3a', fg: '#ffffff'}
  ]
});

makeChart('rMacd', [
  lineSet(rightDays, rightSignal, '#ff7a1a', 1.5, 1),
  lineSet(rightDays, rightMacd, '#2a96ee', 1.5, 2),
  {type: 'bar', grouped: false, order: 3, barThickness: 3.7, data: pts(rightDays, rightHist), backgroundColor: '#9c22f0'}
], xScale(RX[0], RX[1], rightXTicks, rightXLabels, false),
   yScale(-0.0001544, 0.000179, [-0.0001, 0, 0.0001], 4, 46), null, {
  over: [{t: 'line', p: [[19.03, -0.0000906], [20.69, -0.0000592]], c: BLACK}]
});

makeChart('rStoch', [
  lineSet(rightDays, rightD, '#ff7a1a', 2, 1, {tension: 0.2}),
  lineSet(rightDays, rightK, '#2a96ee', 1.5, 2, {tension: 0.2})
], xScale(RX[0], RX[1], rightXTicks, rightXLabels, false),
   yScale(-7.4, 108.4, [0, 40, 80], 4, 46), null, {
  under: stochBands,
  over: [{t: 'line', p: [[20.22, 102], [21.17, -3]], c: BLACK}]
});

makeChart('rRsi', [
  lineSet(rightDays, rightRsi, '#9a2ee0', 1.3, 1, {tension: 0.1})
], xScale(RX[0], RX[1], rightXTicks, rightXLabels, true),
   yScale(14.8, 87.8, [20, 40, 60, 80], 4, 46), null, {
  under: rsiBands,
  over: [
    {t: 'line', p: [[19.40, 84.3], [26.02, 34.8]], c: BLACK},
    {t: 'line', p: [[20.10, 79.1], [21.12, 20.9]], c: BLACK},
    {t: 'line', p: [[20.09, 54.8], [20.91, 18.3]], c: BLACK},
    {t: 'line', p: [[21.95, 66.1], [22.64, 29.6]], c: BLACK},
    {t: 'line', p: [[22.55, 19.1], [24.26, 88.7]], c: BLACK},
    {t: 'line', p: [[19.02, 17.4], [25.19, 21.7]], c: BLACK, w: 1.3}
  ]
});
</script>
</body>
</html>
